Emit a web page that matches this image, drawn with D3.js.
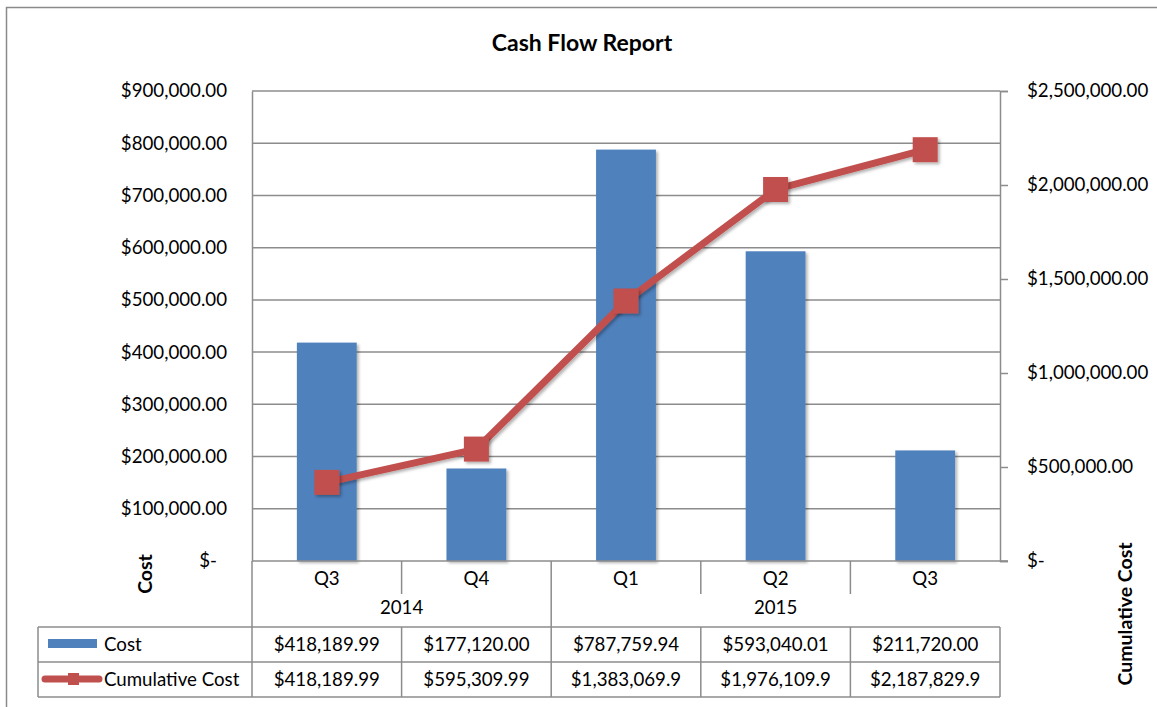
<!DOCTYPE html>
<html>
<head>
<meta charset="utf-8">
<script src="https://cdn.jsdelivr.net/npm/d3@7"></script>
<style>
  body { margin: 0; background: #fff; }
  svg { font-family: Lato, "Open Sans", sans-serif; }
</style>
</head>
<body>
<div id="chart"></div>
<script>
// data
const quarters = ["Q3", "Q4", "Q1", "Q2", "Q3"];
const years = [{ label: "2014", from: 0, to: 2 }, { label: "2015", from: 2, to: 5 }];
const costValues = [418189.99, 177120.00, 787759.94, 593040.01, 211720.00];
const cumulativeValues = [418189.99, 595309.99, 1383069.9, 1976109.9, 2187829.9];
const costLabels = ["$418,189.99", "$177,120.00", "$787,759.94", "$593,040.01", "$211,720.00"];
const cumulativeLabels = ["$418,189.99", "$595,309.99", "$1,383,069.9", "$1,976,109.9", "$2,187,829.9"];
const leftTicks = [0, 100000, 200000, 300000, 400000, 500000, 600000, 700000, 800000, 900000];
const rightTicks = [0, 500000, 1000000, 1500000, 2000000, 2500000];

const width = 1157, height = 707;
const plot = { left: 252, right: 1000, top: 91, bottom: 561 };
const blue = "#4F81BD", red = "#C0504D", gridColor = "#8c8c8c";
const fontSize = 18.7;

const svg = d3.select("#chart").append("svg")
  .attr("width", width)
  .attr("height", height);

const defs = svg.append("defs");
const shadow = defs.append("filter").attr("id", "shadow")
  .attr("x", "-20%").attr("y", "-20%").attr("width", "140%").attr("height", "140%");
shadow.append("feDropShadow")
  .attr("dx", 2).attr("dy", 2).attr("stdDeviation", 1.5)
  .attr("flood-color", "#000").attr("flood-opacity", 0.3);

// outer chart border
svg.append("rect")
  .attr("x", 6.5).attr("y", 7.5)
  .attr("width", width + 20).attr("height", height + 20)
  .attr("fill", "none").attr("stroke", "#8a8a8a").attr("stroke-width", 1.5);

const x = d3.scaleBand()
  .domain(d3.range(quarters.length))
  .range([plot.left, plot.right])
  .paddingInner(0).paddingOuter(0);
const yLeft = d3.scaleLinear().domain([0, 900000]).range([plot.bottom, plot.top]);
const yRight = d3.scaleLinear().domain([0, 2500000]).range([plot.bottom, plot.top]);

const fmt = v => v === 0 ? "$-" : "$" + d3.format(",.2f")(v);

// gridlines
svg.append("g")
  .selectAll("line")
  .data(leftTicks.filter(d => d > 0))
  .join("line")
  .attr("x1", plot.left).attr("x2", plot.right)
  .attr("y1", d => yLeft(d)).attr("y2", d => yLeft(d))
  .attr("stroke", gridColor).attr("stroke-width", 1.5);

// left axis
const leftAxis = svg.append("g")
  .attr("transform", `translate(${plot.left},0)`)
  .call(d3.axisLeft(yLeft).tickValues(leftTicks).tickSize(0).tickPadding(25).tickFormat(fmt));
leftAxis.select(".domain").attr("stroke", gridColor).attr("stroke-width", 1.5);
leftAxis.selectAll("text")
  .attr("font-size", fontSize).attr("fill", "#000")
  .attr("font-family", "Lato")
  .attr("dx", d => d === 0 ? -10 : 0);

// right axis
const rightAxis = svg.append("g")
  .attr("transform", `translate(${plot.right},0)`)
  .call(d3.axisRight(yRight).tickValues(rightTicks).tickSize(8).tickPadding(19).tickFormat(fmt));
rightAxis.select(".domain").attr("stroke", gridColor).attr("stroke-width", 1.5);
rightAxis.selectAll(".tick line").attr("stroke", gridColor).attr("stroke-width", 1.5);
rightAxis.selectAll("text")
  .attr("font-size", fontSize).attr("fill", "#000").attr("font-family", "Lato");

// bars
const barW = x.bandwidth() * 0.4;
svg.append("g")
  .selectAll("rect")
  .data(costValues)
  .join("rect")
  .attr("x", (d, i) => x(i) + (x.bandwidth() - barW) / 2)
  .attr("y", d => yLeft(d))
  .attr("width", barW)
  .attr("height", d => plot.bottom - yLeft(d))
  .attr("fill", blue)
  .attr("filter", "url(#shadow)");

// category axis line
svg.append("line")
  .attr("x1", plot.left).attr("x2", plot.right + 8)
  .attr("y1", plot.bottom).attr("y2", plot.bottom)
  .attr("stroke", gridColor).attr("stroke-width", 1.5);

// cumulative line
const line = d3.line()
  .x((d, i) => x(i) + x.bandwidth() / 2)
  .y(d => yRight(d));
svg.append("path")
  .datum(cumulativeValues)
  .attr("d", line)
  .attr("fill", "none")
  .attr("stroke", red)
  .attr("stroke-width", 7)
  .attr("stroke-linejoin", "round")
  .attr("filter", "url(#shadow)");

const mk = 25;
svg.append("g")
  .selectAll("rect")
  .data(cumulativeValues)
  .join("rect")
  .attr("x", (d, i) => x(i) + x.bandwidth() / 2 - mk / 2)
  .attr("y", d => yRight(d) - mk / 2)
  .attr("width", mk).attr("height", mk)
  .attr("fill", red)
  .attr("filter", "url(#shadow)");

// category labels (quarters + years)
const catY1 = plot.bottom, catY2 = 594, tableTop = 627;
const cat = svg.append("g").attr("font-size", fontSize).attr("text-anchor", "middle");
cat.selectAll("text.q")
  .data(quarters)
  .join("text")
  .attr("class", "q")
  .attr("x", (d, i) => x(i) + x.bandwidth() / 2)
  .attr("y", 585)
  .text(d => d);

// short separators between quarters within a year
const innerBounds = [1, 3, 4];
cat.selectAll("line.inner")
  .data(innerBounds)
  .join("line")
  .attr("x1", d => x(d)).attr("x2", d => x(d))
  .attr("y1", catY1).attr("y2", catY2)
  .attr("stroke", gridColor).attr("stroke-width", 1.5);

// year boundaries
const yearBounds = [0, 2];
cat.selectAll("line.year")
  .data(yearBounds)
  .join("line")
  .attr("x1", d => x(d)).attr("x2", d => x(d))
  .attr("y1", catY1).attr("y2", tableTop)
  .attr("stroke", gridColor).attr("stroke-width", 1.5);

cat.selectAll("text.y")
  .data(years)
  .join("text")
  .attr("class", "y")
  .attr("x", d => (x(d.from) + (d.to < quarters.length ? x(d.to) : plot.right)) / 2)
  .attr("y", 614)
  .text(d => d.label);

// data table
const tableLeft = 38, rowH = 35;
const rows = [
  { name: "Cost", labels: costLabels, type: "bar" },
  { name: "Cumulative Cost", labels: cumulativeLabels, type: "line" }
];
const table = svg.append("g").attr("font-size", fontSize);
const colEdges = [tableLeft].concat(d3.range(quarters.length).map(i => x(i)), [plot.right]);

rows.forEach((r, ri) => {
  const y0 = tableTop + ri * rowH;
  table.append("line")
    .attr("x1", tableLeft).attr("x2", plot.right)
    .attr("y1", y0).attr("y2", y0)
    .attr("stroke", gridColor).attr("stroke-width", 1.5);
  table.selectAll(null)
    .data(r.labels)
    .join("text")
    .attr("x", (d, i) => x(i) + x.bandwidth() / 2)
    .attr("y", y0 + 24)
    .attr("text-anchor", "middle")
    .text(d => d);
  table.append("text")
    .attr("x", 104).attr("y", y0 + 24)
    .text(r.name);
  if (r.type === "bar") {
    table.append("rect")
      .attr("x", 48).attr("y", y0 + 12)
      .attr("width", 49).attr("height", 9)
      .attr("fill", blue);
  } else {
    table.append("line")
      .attr("x1", 45).attr("x2", 99)
      .attr("y1", y0 + 17).attr("y2", y0 + 17)
      .attr("stroke", red).attr("stroke-width", 7)
      .attr("stroke-linecap", "round");
    table.append("rect")
      .attr("x", 68).attr("y", y0 + 11)
      .attr("width", 11).attr("height", 12)
      .attr("fill", red);
  }
});
table.append("line")
  .attr("x1", tableLeft).attr("x2", plot.right)
  .attr("y1", tableTop + 2 * rowH).attr("y2", tableTop + 2 * rowH)
  .attr("stroke", gridColor).attr("stroke-width", 1.5);
table.selectAll("line.col")
  .data(colEdges)
  .join("line")
  .attr("class", "col")
  .attr("x1", d => d).attr("x2", d => d)
  .attr("y1", tableTop).attr("y2", tableTop + 2 * rowH)
  .attr("stroke", gridColor).attr("stroke-width", 1.5);

// titles
svg.append("text")
  .attr("x", 582).attr("y", 51)
  .attr("text-anchor", "middle")
  .attr("font-size", 23).attr("font-weight", "bold")
  .text("Cash Flow Report");

svg.append("text")
  .attr("transform", "translate(152,574) rotate(-90)")
  .attr("text-anchor", "middle")
  .attr("font-size", 19.5).attr("font-weight", "bold")
  .text("Cost");

svg.append("text")
  .attr("transform", "translate(1132,614) rotate(-90)")
  .attr("text-anchor", "middle")
  .attr("font-size", 19.5).attr("font-weight", "bold")
  .text("Cumulative Cost");
</script>
</body>
</html>
